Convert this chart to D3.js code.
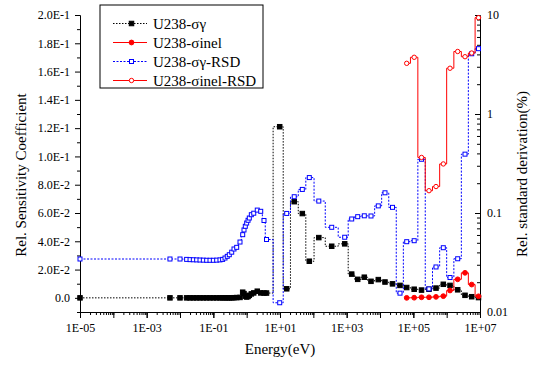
<!DOCTYPE html>
<html>
<head>
<meta charset="utf-8">
<script src="https://cdn.jsdelivr.net/npm/d3@7"></script>
<style>
  body { margin: 0; background: #fff; }
  svg { font-family: "Liberation Serif", "Times New Roman", serif; }
</style>
</head>
<body>
<div id="chart"></div>
<script>
// energy group points (eV) for the capture curves
const energyGamma = [1e-5, 5e-3, 1e-2, 0.0158, 0.0200, 0.0251, 0.0316, 0.0398, 0.0501, 0.0631,
  0.0794, 0.100, 0.126, 0.158, 0.190, 0.224, 0.262, 0.301, 0.356, 0.417,
  0.502, 0.631, 0.760, 0.832, 0.910, 1.00, 1.10, 1.20, 1.38, 1.63,
  2.08, 2.64, 3.31, 3.94, 9.8, 15.9, 26.7, 46.7, 75.7, 146,
  356, 873, 1416, 2143, 3381, 5370, 8890, 14125, 23714, 39810,
  63240, 1.06e5, 1.76e5, 2.95e5, 4.79e5, 7.93e5, 1.26e6, 2.14e6, 3.55e6, 5.64e6, 9.02e6];

const sensGamma = [0, 0, 0, 0, 0, 0, 0, 0, 0, 0,
  0, 0, 0, 0, 0, 0, 0, 0, 0, 0.0001,
  0.0002, 0.0003, 0.0040, 0.0030, 0.0012, 0.0006, 0.0010, 0.0018, 0.0028, 0.0035,
  0.0047, 0.0035, 0.0034, 0.0034, 0.121, 0.0064, 0.068, 0.0596, 0.0259, 0.0426,
  0.0365, 0.0382, 0.0168, 0.0131, 0.0146, 0.0117, 0.0129, 0.0112, 0.0099, 0.0088,
  0.0073, 0.0061, 0.0055, 0.0061, 0.0069, 0.0096, 0.0088, 0.0057, 0.0018, 0.0008, 0.0002];

const rsdGamma = [0.0343, 0.0343, 0.0343, 0.0340, 0.0338, 0.0337, 0.0336, 0.0335, 0.0334, 0.0333,
  0.0333, 0.0333, 0.0334, 0.0336, 0.0340, 0.0351, 0.0365, 0.0379, 0.0402, 0.0433,
  0.0450, 0.0509, 0.0604, 0.0674, 0.0734, 0.0792, 0.0844, 0.0890, 0.0961, 0.0995,
  0.107, 0.104, 0.084, 0.054, 0.0124, 0.099, 0.146, 0.173, 0.228, 0.132,
  0.0717, 0.0569, 0.087, 0.0918, 0.0937, 0.0933, 0.118, 0.160, 0.114, 0.0155,
  0.0513, 0.0525, 0.349, 0.0171, 0.0285, 0.0446, 0.0223, 0.0345, 0.393, 4.06, 4.57];

// inelastic curves only cover the fast range
const energyInel = [63240, 1.06e5, 1.76e5, 2.95e5, 4.79e5, 7.93e5, 1.26e6, 2.14e6, 3.55e6, 5.64e6, 9.02e6];
const sensInel = [0.0, 0.0001, 0.0004, 0.0004, 0.0007, 0.0012, 0.0052, 0.0131, 0.0177, 0.0094, 0.0011];
const rsdInel = [3.25, 3.74, 0.364, 0.168, 0.185, 0.313, 2.90, 4.28, 3.79, 4.13, 9.4];

// tick labels
const xTickValues = [1e-5, 1e-3, 1e-1, 1e1, 1e3, 1e5, 1e7];
const xTickLabels = ["1E-05", "1E-03", "1E-01", "1E+01", "1E+03", "1E+05", "1E+07"];
const yTickValues = [0, 0.02, 0.04, 0.06, 0.08, 0.10, 0.12, 0.14, 0.16, 0.18, 0.20];
const yTickLabels = ["0.0", "2.0E-2", "4.0E-2", "6.0E-2", "8.0E-2", "1.0E-1",
  "1.2E-1", "1.4E-1", "1.6E-1", "1.8E-1", "2.0E-1"];
const y2TickValues = [0.01, 0.1, 1, 10];
const y2TickLabels = ["0.01", "0.1", "1", "10"];

const margin = { top: 15, right: 53, bottom: 53, left: 80 },
      width = 533 - margin.left - margin.right,
      height = 365 - margin.top - margin.bottom;

const svg = d3.select("#chart")
  .append("svg")
  .attr("width", 533)
  .attr("height", 365)
  .append("g")
  .attr("transform", `translate(${margin.left},${margin.top})`);

const x = d3.scaleLog().domain([1e-5, 1e7]).range([0, width]);
const y = d3.scaleLinear().domain([-0.01, 0.2]).range([height, 0]);
const y2 = d3.scaleLog().domain([0.01, 10]).range([height, 0]);

// minor tick positions
const xMinor = [];
d3.range(-5, 7).forEach(p => {
  d3.range(1, 10).forEach(m => xMinor.push(m * Math.pow(10, p)));
});
const y2Minor = [];
d3.range(-2, 1).forEach(p => {
  d3.range(2, 10).forEach(m => y2Minor.push(m * Math.pow(10, p)));
});
const yMinor = d3.range(-0.01, 0.2, 0.02);

function styleAxis(g) {
  g.selectAll("path, line").attr("stroke", "#000").attr("stroke-width", 1);
  g.selectAll("text").style("font-size", "12px").attr("fill", "#000")
    .style("font-family", '"Liberation Serif", serif');
}

// Axes - bottom
svg.append("g")
  .attr("transform", `translate(0,${height})`)
  .call(d3.axisBottom(x).tickValues(xMinor).tickSize(3).tickSizeOuter(0).tickFormat(""))
  .call(styleAxis);
svg.append("g")
  .attr("transform", `translate(0,${height})`)
  .call(d3.axisBottom(x).tickValues(d3.range(-5, 8).map(p => Math.pow(10, p)))
    .tickSize(6).tickSizeOuter(0).tickFormat(""))
  .call(styleAxis);
svg.append("g")
  .attr("transform", `translate(0,${height})`)
  .call(d3.axisBottom(x).tickValues(xTickValues).tickSize(6).tickSizeOuter(0).tickPadding(5)
    .tickFormat((d, i) => xTickLabels[i]))
  .call(styleAxis);

// left
svg.append("g")
  .call(d3.axisLeft(y).tickValues(yMinor).tickSize(3).tickSizeOuter(0).tickFormat(""))
  .call(styleAxis);
svg.append("g")
  .call(d3.axisLeft(y).tickValues(yTickValues).tickSize(5).tickSizeOuter(0).tickPadding(5)
    .tickFormat((d, i) => yTickLabels[i]))
  .call(styleAxis);

// right (ticks point inward)
svg.append("g")
  .attr("transform", `translate(${width},0)`)
  .call(d3.axisRight(y2).tickValues(y2Minor).tickSize(-3).tickSizeOuter(0).tickFormat(""))
  .call(styleAxis);
svg.append("g")
  .attr("transform", `translate(${width},0)`)
  .call(d3.axisRight(y2).tickValues(y2TickValues).tickSize(-5).tickSizeOuter(0).tickPadding(7)
    .tickFormat((d, i) => y2TickLabels[i]))
  .call(styleAxis);

// Series
const series = [
  { name: "U238-\u03c3\u03b3", e: energyGamma, v: sensGamma, scale: y, color: "#000",
    dash: "1.5,1.5", marker: "square", fill: true },
  { name: "U238-\u03c3inel", e: energyInel, v: sensInel, scale: y, color: "#ff0000",
    dash: null, marker: "circle", fill: true },
  { name: "U238-\u03c3\u03b3-RSD", e: energyGamma, v: rsdGamma, scale: y2, color: "#0000ff",
    dash: "2,1.5", marker: "square", fill: false },
  { name: "U238-\u03c3inel-RSD", e: energyInel, v: rsdInel, scale: y2, color: "#ff0000",
    dash: null, marker: "circle", fill: false }
];

function drawMarker(g, s, cx, cy) {
  if (s.marker === "square") {
    const sz = s.fill ? 4.5 : 4;
    g.append("rect")
      .attr("x", cx - sz / 2).attr("y", cy - sz / 2)
      .attr("width", sz).attr("height", sz)
      .attr("fill", s.fill ? s.color : "#fff")
      .attr("stroke", s.color).attr("stroke-width", 1);
  } else {
    g.append("circle")
      .attr("cx", cx).attr("cy", cy).attr("r", s.fill ? 2.4 : 2.2)
      .attr("fill", s.fill ? s.color : "#fff")
      .attr("stroke", s.color).attr("stroke-width", 1);
  }
}

series.forEach(s => {
  const pts = s.e.map((e, i) => ({ e: e, v: s.v[i] }));
  const line = d3.line()
    .curve(d3.curveStep)
    .x(d => x(d.e))
    .y(d => s.scale(d.v));
  svg.append("path")
    .datum(pts)
    .attr("d", line)
    .attr("fill", "none")
    .attr("stroke", s.color)
    .attr("stroke-width", 1)
    .attr("stroke-dasharray", s.dash);
  const mg = svg.append("g");
  pts.forEach(d => drawMarker(mg, s, x(d.e), s.scale(d.v)));
});

// Axis titles
svg.append("text")
  .attr("transform", `translate(${26 - margin.left},${175 - margin.top}) rotate(-90)`)
  .attr("text-anchor", "middle")
  .style("font-size", "15px")
  .text("Rel. Sensitivity Coefficient");

svg.append("text")
  .attr("transform", `translate(${527 - margin.left},${174 - margin.top}) rotate(-90)`)
  .attr("text-anchor", "middle")
  .style("font-size", "15px")
  .text("Rel. standard derivation(%)");

svg.append("text")
  .attr("x", width / 2)
  .attr("y", 354 - margin.top)
  .attr("text-anchor", "middle")
  .style("font-size", "15px")
  .text("Energy(eV)");

// =====================
// LEGEND
// =====================
const legend = svg.append("g")
  .attr("transform", `translate(${100 - margin.left},${5 - margin.top})`);

legend.append("rect")
  .attr("width", 163)
  .attr("height", 83)
  .attr("fill", "#fff")
  .attr("stroke", "#000")
  .attr("stroke-width", 1);

series.forEach((s, i) => {
  const ly = 18.5 + i * 19;
  legend.append("line")
    .attr("x1", 13).attr("x2", 47)
    .attr("y1", ly).attr("y2", ly)
    .attr("stroke", s.color)
    .attr("stroke-width", 1)
    .attr("stroke-dasharray", s.dash);
  drawMarker(legend, s, 31.5, ly);
  legend.append("text")
    .attr("x", 53)
    .attr("y", ly + 5)
    .style("font-size", "15px")
    .text(s.name);
});
</script>
</body>
</html>
